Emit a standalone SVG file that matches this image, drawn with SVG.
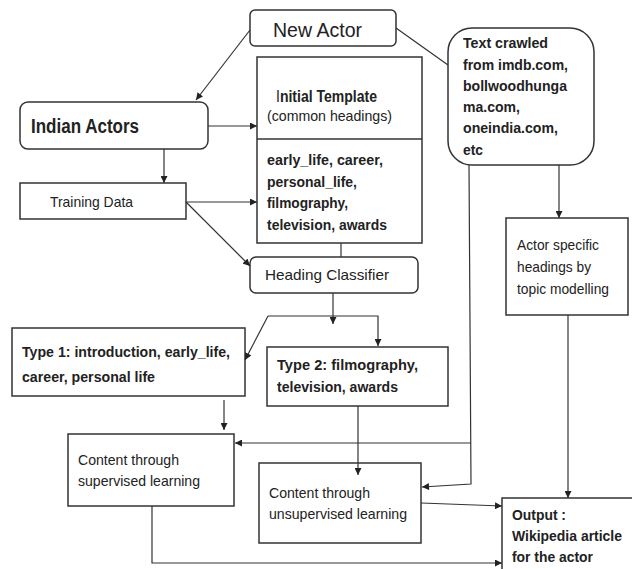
<svg xmlns="http://www.w3.org/2000/svg" width="632" height="569" viewBox="0 0 632 569">
<defs>
<marker id="arr" viewBox="0 0 10 10" refX="10" refY="5" markerWidth="8" markerHeight="7" markerUnits="userSpaceOnUse" orient="auto">
<path d="M0,0 L10,5 L0,10 z" fill="#222"/>
</marker>
<style>
.box{fill:#fff;stroke:#333;stroke-width:1.5}
.c{fill:none;stroke:#333;stroke-width:1.2}
.a{marker-end:url(#arr)}
text{font-family:"Liberation Sans Narrow","Liberation Sans",Arial,sans-serif;fill:#222}
.b{font-weight:bold}
.t15{font-size:15px}
</style>
</defs>
<rect width="632" height="569" fill="#fff"/>

<g id="new-actor">
<rect class="box" x="250" y="10" width="146" height="36" rx="5"/>
<text x="273" y="37" font-size="21" textLength="89" lengthAdjust="spacingAndGlyphs">New Actor</text>
</g>

<g id="initial-template">
<rect class="box" x="257" y="57" width="165" height="186"/>
<line x1="257" y1="139" x2="422" y2="139" stroke="#333" stroke-width="1.5"/>
<text x="276" y="102" font-size="16" textLength="101" lengthAdjust="spacingAndGlyphs">I<tspan class="b">nitial Template</tspan></text>
<text class="t15" x="267" y="121" textLength="125" lengthAdjust="spacingAndGlyphs">(common headings)</text>
<text class="t15 b" x="267" y="165" textLength="116" lengthAdjust="spacingAndGlyphs">early_life, career,</text>
<text class="t15 b" x="267" y="187" textLength="90" lengthAdjust="spacingAndGlyphs">personal_life,</text>
<text class="t15 b" x="267" y="208" textLength="81" lengthAdjust="spacingAndGlyphs">filmography,</text>
<text class="t15 b" x="267" y="230" textLength="120" lengthAdjust="spacingAndGlyphs">television, awards</text>
</g>

<g id="indian-actors">
<rect class="box" x="20" y="102" width="188" height="47" rx="8"/>
<text class="b" x="31" y="133" font-size="19.5" textLength="108" lengthAdjust="spacingAndGlyphs">Indian Actors</text>
</g>

<g id="training-data">
<rect class="box" x="20" y="183" width="166" height="36"/>
<text class="t15" x="50" y="207" textLength="83" lengthAdjust="spacingAndGlyphs">Training Data</text>
</g>

<g id="heading-classifier">
<rect class="box" x="250" y="257" width="168" height="36" rx="6"/>
<text class="t15" x="265" y="280" textLength="124" lengthAdjust="spacingAndGlyphs">Heading Classifier</text>
</g>

<g id="text-crawled">
<rect class="box" x="448" y="28" width="146" height="137" rx="24"/>
<text class="t15 b" x="463" y="48" textLength="85" lengthAdjust="spacingAndGlyphs">Text crawled</text>
<text class="t15 b" x="463" y="70" textLength="105" lengthAdjust="spacingAndGlyphs">from imdb.com,</text>
<text class="t15 b" x="463" y="91" textLength="104" lengthAdjust="spacingAndGlyphs">bollwoodhunga</text>
<text class="t15 b" x="463" y="112" textLength="57" lengthAdjust="spacingAndGlyphs">ma.com,</text>
<text class="t15 b" x="463" y="133" textLength="95" lengthAdjust="spacingAndGlyphs">oneindia.com,</text>
<text class="t15 b" x="463" y="155" textLength="20" lengthAdjust="spacingAndGlyphs">etc</text>
</g>

<g id="actor-specific">
<rect class="box" x="506" y="218" width="122" height="97"/>
<text class="t15" x="517" y="250" textLength="82" lengthAdjust="spacingAndGlyphs">Actor specific</text>
<text class="t15" x="517" y="272" textLength="74" lengthAdjust="spacingAndGlyphs">headings by</text>
<text class="t15" x="517" y="294" textLength="92" lengthAdjust="spacingAndGlyphs">topic modelling</text>
</g>

<g id="type1">
<rect class="box" x="12" y="328" width="233" height="68"/>
<text class="t15 b" x="22" y="357" textLength="208" lengthAdjust="spacingAndGlyphs">Type 1: introduction, early_life,</text>
<text class="t15 b" x="22" y="382" textLength="133" lengthAdjust="spacingAndGlyphs">career, personal life</text>
</g>

<g id="type2">
<rect class="box" x="267" y="347" width="181" height="59"/>
<text class="t15 b" x="277" y="370" textLength="141" lengthAdjust="spacingAndGlyphs">Type 2: filmography,</text>
<text class="t15 b" x="277" y="392" textLength="121" lengthAdjust="spacingAndGlyphs">television, awards</text>
</g>

<g id="supervised">
<rect class="box" x="68" y="434" width="166" height="72"/>
<text class="t15" x="78" y="465" textLength="101" lengthAdjust="spacingAndGlyphs">Content through</text>
<text class="t15" x="78" y="486" textLength="122" lengthAdjust="spacingAndGlyphs">supervised learning</text>
</g>

<g id="unsupervised">
<rect class="box" x="259" y="463" width="162" height="80"/>
<text class="t15" x="269" y="498" textLength="101" lengthAdjust="spacingAndGlyphs">Content through</text>
<text class="t15" x="269" y="519" textLength="138" lengthAdjust="spacingAndGlyphs">unsupervised learning</text>
</g>

<g id="output">
<path class="box" d="M502,569 V498 H632"/>
<text class="t15 b" x="512" y="520" textLength="54" lengthAdjust="spacingAndGlyphs">Output :</text>
<text class="t15 b" x="512" y="541" textLength="110" lengthAdjust="spacingAndGlyphs">Wikipedia article</text>
<text class="t15 b" x="512" y="562" textLength="81" lengthAdjust="spacingAndGlyphs">for the actor</text>
</g>

<g id="connectors">
<line class="c a" x1="250" y1="30" x2="196" y2="100"/>
<line class="c" x1="396" y1="28" x2="448" y2="65"/>
<line class="c a" x1="208" y1="126" x2="257" y2="126"/>
<line class="c a" x1="164" y1="149" x2="164" y2="183"/>
<line class="c a" x1="186" y1="202" x2="257" y2="202"/>
<line class="c a" x1="186" y1="202" x2="250" y2="266"/>
<line class="c" x1="341" y1="243" x2="341" y2="257"/>
<line class="c a" x1="333" y1="293" x2="333" y2="324"/>
<polyline class="c a" points="268,316 378,316 378,346"/>
<line class="c a" x1="268" y1="316" x2="245" y2="360"/>
<line class="c a" x1="224" y1="400" x2="224" y2="430"/>
<polyline class="c a" points="469,165 471,484 422,487"/>
<line class="c a" x1="471" y1="443" x2="235" y2="443"/>
<line class="c a" x1="559" y1="165" x2="559" y2="218"/>
<line class="c a" x1="568" y1="315" x2="568" y2="498"/>
<line class="c a" x1="358" y1="406" x2="358" y2="475"/>
<line class="c a" x1="421" y1="503" x2="502" y2="506"/>
<polyline class="c a" points="152,506 152,563 502,563"/>
</g>
</svg>
